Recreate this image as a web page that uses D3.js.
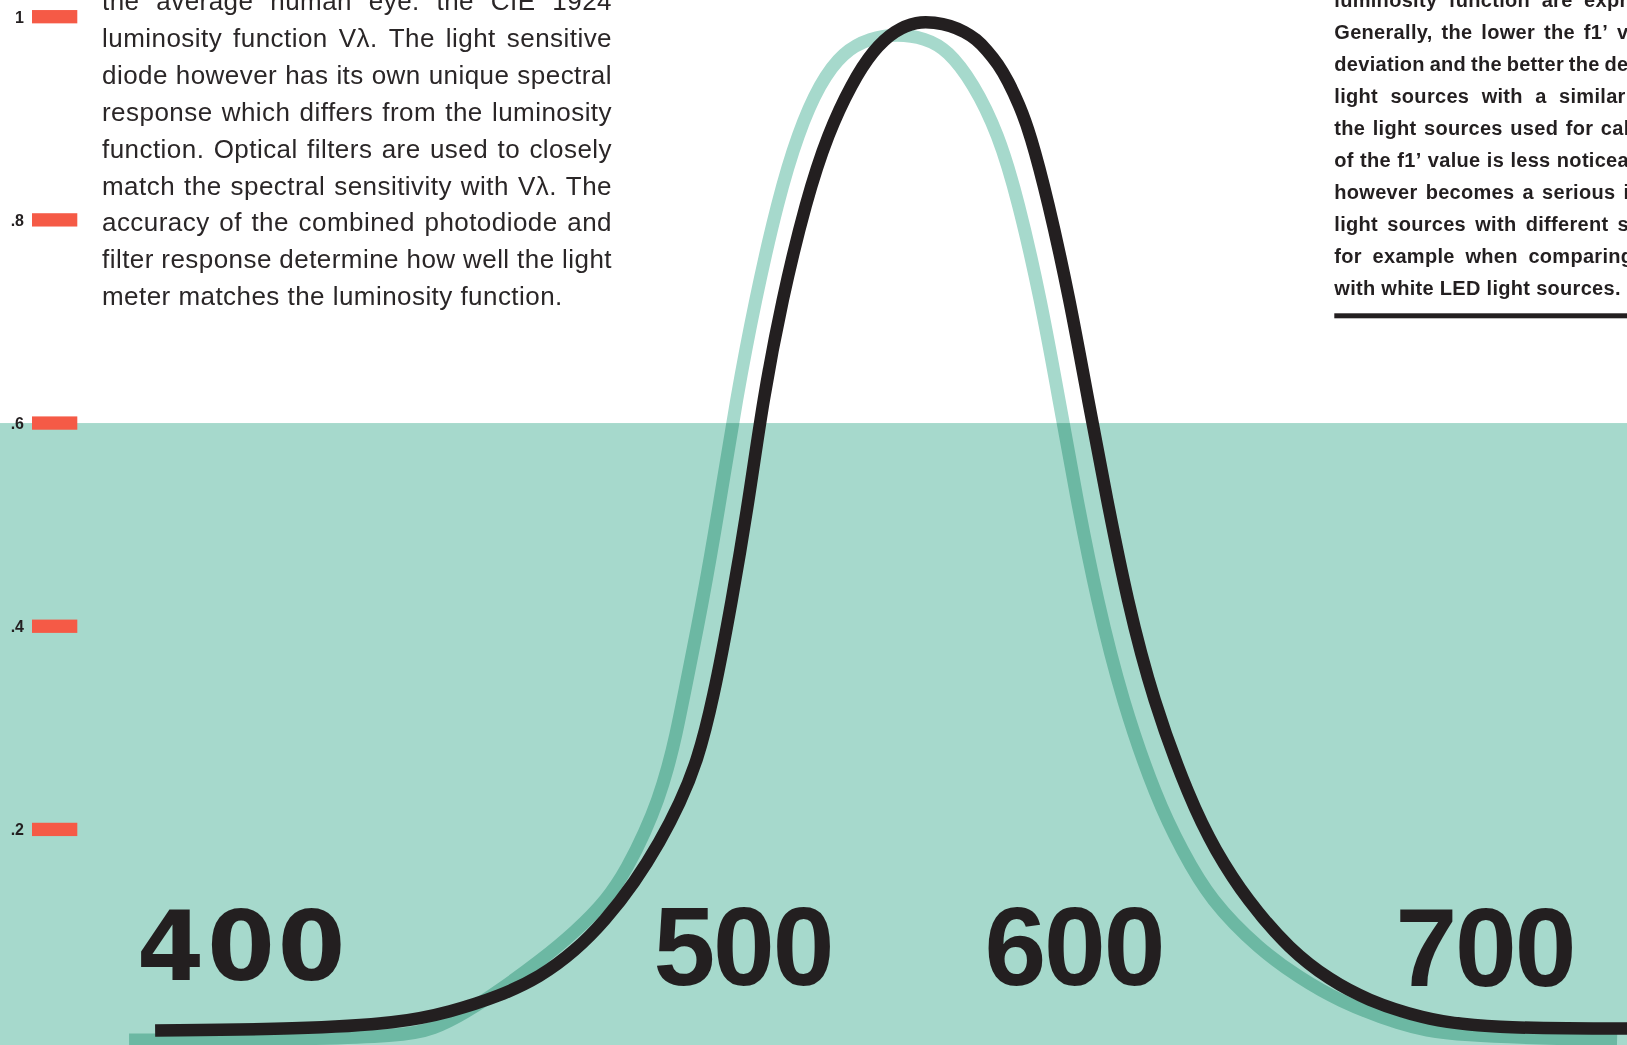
<!DOCTYPE html>
<html>
<head>
<meta charset="utf-8">
<script src="https://cdn.jsdelivr.net/npm/d3@7"></script>
<style>
  html, body { margin: 0; padding: 0; background: #ffffff; overflow: hidden; }
  svg { display: block; }
</style>
</head>
<body>
<svg id="chart" width="1627" height="1045"></svg>
<script>
// ---------------- data ----------------
// Black curve: luminosity function V(lambda) as drawn (wavelength nm, relative value)
const blackNm  = [350.3, 389.2, 416.1, 429.6, 443.0, 453.8, 463.2, 471.2, 479.3, 486.0, 491.4, 496.0, 500.3, 505.4, 509.9, 513.7, 518.8, 525.3, 531.2, 537.6, 543.3, 549.2, 555.1, 559.9, 564.0, 568.0, 571.0, 573.9, 576.9, 579.6, 582.5, 585.5, 590.3, 596.2, 601.1, 606.2, 611.6, 618.5, 628.5, 635.2, 643.8, 655.4, 666.1, 676.1, 690.3, 707.3, 752.2];
const blackVal = [0.0021, 0.0035, 0.0094, 0.0203, 0.0360, 0.0547, 0.0803, 0.1099, 0.1482, 0.1876, 0.2260, 0.2664, 0.3274, 0.4258, 0.5242, 0.6227, 0.7211, 0.8195, 0.8854, 0.9347, 0.9671, 0.9868, 0.9953, 0.9943, 0.9915, 0.9851, 0.9780, 0.9672, 0.9534, 0.9367, 0.9141, 0.8855, 0.8195, 0.7211, 0.6227, 0.5242, 0.4258, 0.3274, 0.2289, 0.1797, 0.1305, 0.0813, 0.0518, 0.0321, 0.0144, 0.0040, 0.0040];
// Teal curve: photodiode + filter response (wavelength nm, relative value)
const tealNm   = [343.3, 389.2, 416.1, 425.0, 434.9, 443.0, 453.8, 463.2, 471.8, 477.4, 482.0, 485.5, 488.2, 490.3, 492.2, 497.6, 502.2, 506.5, 511.6, 517.7, 523.1, 529.0, 535.2, 542.5, 549.7, 557.3, 563.4, 570.2, 576.9, 582.3, 588.4, 593.3, 598.1, 603.5, 610.2, 619.6, 626.3, 633.9, 647.3, 658.1, 668.0, 684.9, 698.4, 743.3];
const tealVal  = [-0.0073, -0.0068, -0.0033, 0.0026, 0.0222, 0.0419, 0.0705, 0.0990, 0.1305, 0.1630, 0.1975, 0.2290, 0.2614, 0.2929, 0.3274, 0.4258, 0.5242, 0.6227, 0.7211, 0.8195, 0.8854, 0.9347, 0.9653, 0.9790, 0.9830, 0.9790, 0.9672, 0.9347, 0.8854, 0.8195, 0.7211, 0.6227, 0.5242, 0.4258, 0.3274, 0.2289, 0.1797, 0.1305, 0.0813, 0.0537, 0.0321, 0.0075, -0.0033, -0.0073];
// Shaded band upper value
const bandTop = 0.6;
// Y tick values and labels
const yTickValues = [1, 0.8, 0.6, 0.4, 0.2];
const yTickLabels = ["1", ".8", ".6", ".4", ".2"];
// Wavelength labels
const xLabels = ["400", "500", "600", "700"];
// Text blocks
const leftLines = [
  "the average human eye. the CIE 1924",
  "luminosity function V\u03bb. The light sensitive",
  "diode however has its own unique spectral",
  "response which differs from the luminosity",
  "function. Optical filters are used to closely",
  "match the spectral sensitivity with V\u03bb. The",
  "accuracy of the combined photodiode and",
  "filter response determine how well the light",
  "meter matches the luminosity function."
];
const rightLines = [
  "luminosity function are expressed as their f1\u2019",
  "Generally, the lower the f1\u2019 value, the narrower",
  "deviation and the better the degree of accuracy. If",
  "light sources with a similar spectral distribu-",
  "the light sources used for calibration, the effect",
  "of the f1\u2019 value is less noticeable. The difference",
  "however becomes a serious issue when testing",
  "light sources with different spectral emissions,",
  "for example when comparing halogen sources",
  "with white LED light sources."
];

// ---------------- layout ----------------
const W = 1627, H = 1045;
const TEAL = "#a6d9cc", BLACK = "#231f20", RED = "#f55a46";
const svg = d3.select("#chart");

const x = d3.scaleLinear().domain([500, 600]).range([712, 1084]);
const y = d3.scaleLinear().domain([0, 1]).range([1032.6, 16.7]);

// band
svg.append("rect")
  .attr("x", 0).attr("y", y(bandTop))
  .attr("width", W).attr("height", H - y(bandTop))
  .attr("fill", TEAL);

// text justification helper
function applyStyle(sel, style) { Object.entries(style).forEach(([k, v]) => sel.style(k, v)); return sel; }
function justifyLine(g, str, x0, width, baseline, isLast, style) {
  const t = applyStyle(g.append("text").attr("y", baseline), style);
  const words = str.split(" ");
  const spans = words.map(w => t.append("tspan").text(w));
  const widths = spans.map(s => s.node().getComputedTextLength());
  const total = d3.sum(widths);
  const a = applyStyle(g.append("text").text("a a"), style);
  const b = applyStyle(g.append("text").text("aa"), style);
  const spaceW = a.node().getComputedTextLength() - b.node().getComputedTextLength();
  a.remove(); b.remove();
  const gap = (isLast || words.length < 2) ? spaceW : (width - total) / (words.length - 1);
  let cx = x0;
  spans.forEach((s, i) => { s.attr("x", cx); cx += widths[i] + gap; });
}

// left paragraph
const leftG = svg.append("g");
const leftStyle = {"font-family": "'Liberation Sans', Arial, sans-serif", "font-size": "26px", "letter-spacing": "0.45px", "fill": "#2a2627"};
leftLines.forEach((l, i) => {
  justifyLine(leftG, l, 102, 510, 9.8 + 36.94 * i, i === leftLines.length - 1, leftStyle);
});

// right paragraph
const rightG = svg.append("g");
const rightStyle = {"font-family": "'Liberation Sans', Arial, sans-serif", "font-size": "20px", "letter-spacing": "0.3px", "font-weight": "bold", "fill": BLACK};
rightLines.forEach((l, i) => {
  justifyLine(rightG, l, 1334.3, 478, 7.3 + 32.02 * i, i === rightLines.length - 1, rightStyle);
});
rightG.append("rect").attr("x", 1334.3).attr("y", 313.3).attr("width", W - 1334.3).attr("height", 5).attr("fill", BLACK);

// x labels (decorative wavelength labels)
const xLabelLayout = [
  {cx: 242.4, base: 980, font: "'DejaVu Sans', sans-serif", size: 97, ls: 3},
  {cx: 743,   base: 984.5, font: "'Liberation Sans', Arial, sans-serif", size: 111, ls: -2},
  {cx: 1074,  base: 984.5, font: "'Liberation Sans', Arial, sans-serif", size: 111, ls: -2},
  {cx: 1485,  base: 985.5, font: "'Liberation Sans', Arial, sans-serif", size: 111, ls: -2}
];
svg.append("g").selectAll("text").data(xLabels).join("text")
  .attr("x", (d, i) => xLabelLayout[i].cx)
  .attr("y", (d, i) => xLabelLayout[i].base)
  .attr("text-anchor", "middle")
  .style("font-family", (d, i) => xLabelLayout[i].font)
  .style("font-size", (d, i) => xLabelLayout[i].size + "px")
  .style("letter-spacing", (d, i) => xLabelLayout[i].ls + "px")
  .style("font-weight", "bold")
  .style("fill", BLACK)
  .text(d => d);

// curves
const line = d3.line().x(d => x(d[0])).y(d => y(d[1])).curve(d3.curveBasis);
const tealData = tealNm.map((n, i) => [n, tealVal[i]]);
const blackData = blackNm.map((n, i) => [n, blackVal[i]]);

svg.append("path").datum(tealData)
  .attr("d", line)
  .attr("fill", "none")
  .attr("stroke", TEAL)
  .attr("stroke-width", 13)
  .attr("stroke-linecap", "butt")
  .style("mix-blend-mode", "multiply");

svg.append("path").datum(blackData)
  .attr("d", line)
  .attr("fill", "none")
  .attr("stroke", BLACK)
  .attr("stroke-width", 12.5)
  .attr("stroke-linecap", "butt");

// y ticks (red bars + labels)
const tickG = svg.append("g");
tickG.selectAll("rect").data(yTickValues).join("rect")
  .attr("x", 32).attr("width", 45.3)
  .attr("y", d => y(d) - 6.65).attr("height", 13.3)
  .attr("fill", RED);
tickG.selectAll("text").data(yTickValues).join("text")
  .attr("x", 24).attr("y", d => y(d) + 6)
  .attr("text-anchor", "end")
  .style("font-family", "'Liberation Sans', Arial, sans-serif")
  .style("font-size", "16px")
  .style("font-weight", "bold")
  .style("fill", BLACK)
  .text((d, i) => yTickLabels[i]);
</script>
</body>
</html>
